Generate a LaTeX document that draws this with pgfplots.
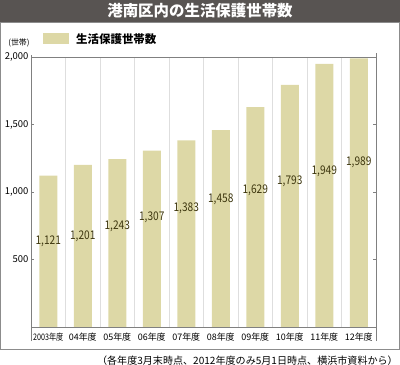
\documentclass[border=0pt]{standalone}
\usepackage{pgfplots}
\pgfplotsset{compat=1.18}
\usepackage{fontspec}
\setmainfont{Noto Sans CJK JP}
\definecolor{titlebg}{RGB}{88,84,82}
\definecolor{barc}{RGB}{221,216,166}
\definecolor{labc}{RGB}{62,55,15}
\definecolor{spine}{RGB}{128,128,128}
\definecolor{gridc}{RGB}{222,222,222}
\definecolor{panel}{RGB}{140,140,140}
\begin{document}
\begin{tikzpicture}
\path[use as bounding box] (0,0) rectangle (400bp,365bp);
\fill[titlebg] (0,343bp) rectangle (400bp,365bp);
\node[text=white,font=\fontsize{15.5}{16}\selectfont\bfseries] at (200bp,354bp) {港南区内の生活保護世帯数};
\draw[panel,line width=0.8bp] (0.5bp,16bp) rectangle (399bp,343bp);
\node[anchor=east,font=\fontsize{10.1}{11}\selectfont,inner sep=0pt] at (398bp,4bp) {（各年度3月末時点、2012年度のみ5月1日時点、横浜市資料から）};
\node[font=\fontsize{8}{9}\selectfont,inner sep=0pt] at (19bp,322bp) {(世帯)};
\begin{axis}[
  at={(31bp,38bp)}, anchor=south west,
  scale only axis, width=345bp, height=270bp,
  xmin=0.5, xmax=10.5, ymin=0, ymax=2000,
  clip=false,
  axis line style={draw=none},
  xtick={1,...,10},
  xticklabels={\scalebox{0.8}[1]{2003年度},04年度,05年度,06年度,07年度,08年度,09年度,10年度,11年度,12年度},
  x tick label style={font=\fontsize{9}{9}\selectfont, yshift=1bp},
  major x tick style={draw=none},
  minor xtick={1.5,2.5,...,9.5},
  minor x tick style={draw=none},
  xminorgrids, minor grid style={gridc, line width=0.8bp},
  ytick={500,1000,1500,2000},
  yticklabel style={font=\fontsize{9.5}{10}\selectfont, xshift=1bp},
  /pgf/number format/.cd, 1000 sep={,}, assume math mode=true, /pgfplots/.cd,
  y tick style={spine, line width=0.6bp},
  major tick length=3bp,
  ybar, bar width=18bp, bar shift=0pt,
  legend style={at={(12bp,288bp)}, anchor=west, draw=none, fill=none,
    font=\fontsize{11.5}{12}\selectfont\bfseries, inner sep=0pt,
    /tikz/every even column/.append style={column sep=0bp}},
  legend cell align=left,
]
\addplot[fill=barc, draw=none, area legend, bar shift=0pt,
  legend image code/.code={\fill[barc] (0bp,-5.5bp) rectangle (26bp,5.5bp); \path (31bp,0);}]
  coordinates {(1,1121) (2,1201) (3,1243) (4,1307) (5,1383) (6,1458) (7,1629) (8,1793) (9,1949) (10,1989)};
\addlegendentry{生活保護世帯数}
\addplot[draw=none, fill=none, mark=none, forget plot, bar shift=0pt, nodes near coords, point meta=explicit symbolic,
  every node near coord/.append style={anchor=center, text=labc, font=\fontsize{12}{12}\selectfont, xscale=0.85}]
  table[meta=label] {
x y label
1 632 1,121
2 674 1,201
3 743 1,243
4 813 1,307
5 879 1,383
6 946 1,458
7 1015 1,629
8 1081 1,793
9 1150 1,949
10 1217 1,989
};
\draw[spine, line width=0.8bp] (axis cs:0.5,2000) -- (axis cs:10.5,2000);
\draw[spine, line width=0.8bp] (axis cs:0.5,0) -- (axis cs:10.5,0);
\draw[spine, line width=0.9bp] (axis cs:0.5,-104) -- (axis cs:0.5,2015);
\draw[spine, line width=0.9bp] (axis cs:10.5,-104) -- (axis cs:10.5,2030);
\end{axis}
\end{tikzpicture}
\end{document}
